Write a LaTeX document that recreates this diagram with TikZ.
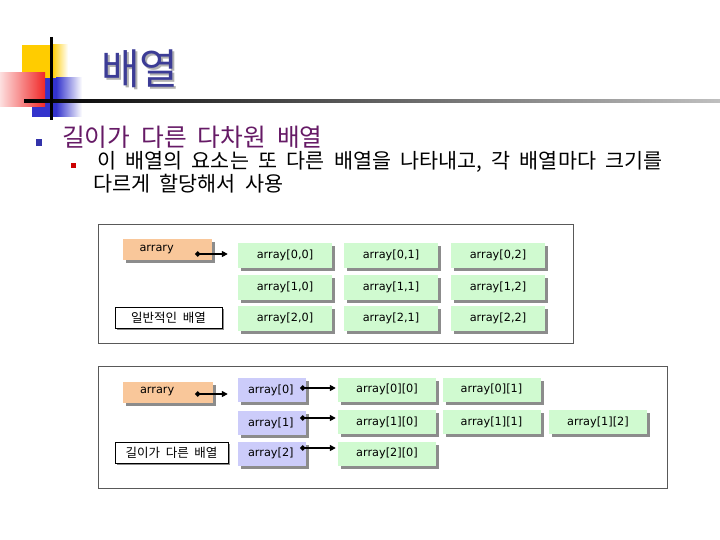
\documentclass[tikz,border=0pt]{standalone}
\usepackage{fontspec}
\newfontfamily\kr{Noto Sans CJK KR}
\newfontfamily\krw[WordSpace=2]{Noto Sans CJK KR}
\newfontfamily\lat{DejaVu Sans}
\usetikzlibrary{shadows,arrows.meta,calc}
\definecolor{peach}{RGB}{249,199,154}
\definecolor{mint}{RGB}{208,250,208}
\definecolor{lav}{RGB}{204,204,250}
\definecolor{titleblue}{RGB}{60,60,150}
\definecolor{purp}{RGB}{102,26,102}
\definecolor{myyellow}{RGB}{255,204,0}
\definecolor{myblue}{RGB}{51,51,204}
\definecolor{myred}{RGB}{240,40,40}
\definecolor{shd}{RGB}{140,140,140}
\definecolor{bulblue}{RGB}{51,51,170}
\definecolor{bulred}{RGB}{204,0,0}
\begin{document}
\begin{tikzpicture}[x=1pt,y=-1pt,
  cell/.style={draw=none, inner sep=0pt, minimum height=24pt,
    font=\lat\fontsize{11.3}{13}\selectfont,
    drop shadow={shadow xshift=3pt, shadow yshift=-3pt, fill=shd, opacity=1}},
  mintbox/.style={cell, fill=mint},
  lavbox/.style={cell, fill=lav, minimum width=68pt, text width=48pt, align=left},
  peachbox/.style={cell, fill=peach, minimum height=21pt, text width=56pt, align=left},
  labbox/.style={draw=black, line width=0.8pt, fill=white, inner sep=0pt,
    minimum height=21pt, font=\kr\fontsize{12.5}{14}\selectfont,
    drop shadow={shadow xshift=2pt, shadow yshift=-2pt, fill=shd, opacity=1}},
  panel/.style={draw=black!65, line width=0.8pt, fill=white, inner sep=0pt,
    drop shadow={shadow xshift=1.2pt, shadow yshift=-1.2pt, fill=black!55, opacity=1}},
  conn/.style={line width=1.6pt, {Circle[length=5pt]}-{Triangle[length=6pt,width=6pt]}},
  txt/.style={inner sep=0pt, anchor=west}
]
\useasboundingbox (0,0) rectangle (720,540);
\fill[white] (0,0) rectangle (720,540);

% title decoration
\fill[myyellow] (22,45) rectangle (52,78);
\shade[left color=myyellow, right color=white] (52,45) rectangle (68,78);
\fill[myblue] (32,78) rectangle (56,117);
\shade[left color=myblue, right color=white] (56,78) rectangle (82,117);
\shade[left color=myred!15, right color=myred] (0,73) rectangle (45,107);
\shade[left color=black, right color=black!25] (24,99.5) rectangle (720,102.5);
\draw[line width=2.5pt] (51.5,37) -- (51.5,120);

% title (with its shadow)
\node[txt, text=black!30, font=\kr\fontsize{42}{46}\selectfont] (ttlsh) at (103,71) {배열};
\node[txt, text=titleblue, font=\kr\fontsize{42}{46}\selectfont] (ttl) at (101,69) {배열};

% bullets
\fill[bulblue] (36,139) rectangle (42,146);
\node[txt, text=purp, font=\krw\fontsize{24.7}{28}\selectfont] (b1) at (62,137.5) {길이가 다른 다차원 배열};
\fill[bulred] (71,163) rectangle (76,168);
\node[txt, font=\krw\fontsize{20.7}{24}\selectfont] (b2) at (97,162) {이 배열의 요소는 또 다른 배열을 나타내고, 각 배열마다 크기를};
\node[txt, font=\krw\fontsize{20.7}{24}\selectfont] (b3) at (93,183.5) {다르게 할당해서 사용};

% panel 1
\node[panel, minimum width=475pt, minimum height=119pt] (p1) at (335.5,283.5) {};
\node[peachbox, minimum width=89pt] (arr1) at (167.5,249.5) {arrary};
\node[mintbox, minimum width=94pt, minimum height=25pt] (a00) at (285,255) {array[0,0]};
\node[mintbox, minimum width=94pt, minimum height=25pt] (a01) at (391,255) {array[0,1]};
\node[mintbox, minimum width=94pt, minimum height=25pt] (a02) at (498,255) {array[0,2]};
\node[mintbox, minimum width=94pt, minimum height=25pt] (a10) at (285,287) {array[1,0]};
\node[mintbox, minimum width=94pt, minimum height=25pt] (a11) at (391,287) {array[1,1]};
\node[mintbox, minimum width=94pt, minimum height=25pt] (a12) at (498,287) {array[1,2]};
\node[mintbox, minimum width=94pt, minimum height=25pt] (a20) at (285,318) {array[2,0]};
\node[mintbox, minimum width=94pt, minimum height=25pt] (a21) at (391,318) {array[2,1]};
\node[mintbox, minimum width=94pt, minimum height=25pt] (a22) at (498,318) {array[2,2]};
\node[labbox, minimum width=107pt] (lab1) at (168.5,317.5) {일반적인 배열};
\draw[conn] ($(arr1.east)+(-17,4.5)$) -- ($(a00.west)+(-10,-1)$);

% panel 2
\node[panel, minimum width=569pt, minimum height=122pt] (p2) at (382.5,427) {};
\node[peachbox, minimum width=90pt] (arr2) at (168,392) {arrary};
\node[lavbox] (l0) at (272,390) {array[0]};
\node[lavbox] (l1) at (272,423) {array[1]};
\node[lavbox] (l2) at (272,453.5) {array[2]};
\node[mintbox, minimum width=98pt] (g00) at (387,389.5) {array[0][0]};
\node[mintbox, minimum width=98pt] (g01) at (491.5,389.5) {array[0][1]};
\node[mintbox, minimum width=98pt] (g10) at (387,422) {array[1][0]};
\node[mintbox, minimum width=98pt] (g11) at (491.5,422) {array[1][1]};
\node[mintbox, minimum width=98pt] (g12) at (598,422) {array[1][2]};
\node[mintbox, minimum width=98pt] (g20) at (387,453.5) {array[2][0]};
\node[labbox, minimum width=113pt] (lab2) at (171.5,452.5) {길이가 다른 배열};
\draw[conn] ($(arr2.east)+(-18,2)$) -- ($(l0.west)+(-10,4)$);
\draw[conn] ($(l0.east)+(-6,-2)$) -- ($(g00.west)+(-2,-1.5)$);
\draw[conn] ($(l1.east)+(-6,-5)$) -- ($(g10.west)+(-2,-4)$);
\draw[conn] ($(l2.east)+(-6,-5.5)$) -- ($(g20.west)+(-2,-5.5)$);
\end{tikzpicture}
\end{document}
